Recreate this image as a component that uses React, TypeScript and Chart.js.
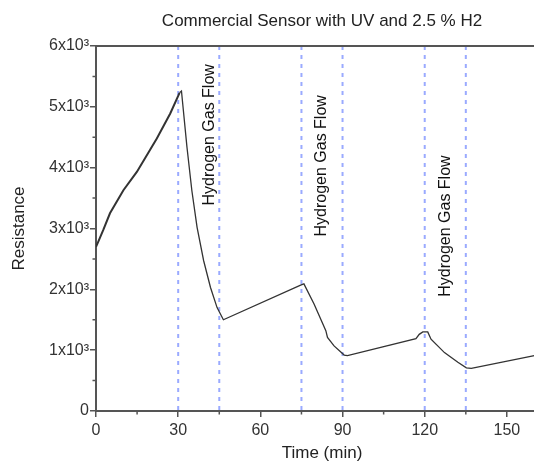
import { useEffect, useRef } from 'react';
import { Chart, registerables } from 'chart.js';

Chart.register(...registerables);

// ---- data ----
const timeMin = [0, 0.8, 2.7, 5.1, 10, 14.9, 19.7, 22.2, 27.1, 30.5, 31.2, 33.2, 35, 36.9, 39.3, 41.8, 44.2, 46.5, 74.7, 75.9, 79.6, 83.9, 84.5, 86.9, 90.6, 91.8, 116.8, 118, 119.3, 121.1, 122.3, 127.2, 132.1, 135.2, 137, 160];
const resistance = [2700, 2780, 2980, 3250, 3630, 3930, 4290, 4480, 4890, 5230, 5260, 4340, 3620, 3020, 2470, 2030, 1700, 1500, 2070, 2090, 1760, 1320, 1210, 1070, 920, 910, 1190, 1260, 1300, 1300, 1180, 960, 800, 710, 700, 910];

const flowLineTimes = [30, 45, 75, 90, 120, 135];
const flowLabelTimes = [41.5, 82.2, 127.7];
const flowLabelValues = [4540, 4030, 3040];
const flowLabelText = 'Hydrogen Gas Flow';

const yTickLabels = ['0', '1x10³', '2x10³', '3x10³', '4x10³', '5x10³', '6x10³'];
const xMinorTicks = [15, 45, 75, 105, 135, 165];
const yMinorTicks = [500, 1500, 2500, 3500, 4500, 5500];

const FONT = "'Liberation Sans', Arial, sans-serif";
const AXIS = '#555';

export default function App() {
  const ref = useRef<HTMLCanvasElement>(null);

  useEffect(() => {
    document.body.style.margin = '0';
    document.body.style.overflow = 'hidden';
    if (!ref.current) return;

    const overlay = {
      id: 'overlay',
      beforeDatasetsDraw(chart: any) {
        const { ctx, chartArea, scales } = chart;
        ctx.save();
        ctx.strokeStyle = 'rgba(100,125,255,0.65)';
        ctx.lineWidth = 2;
        ctx.setLineDash([4, 5]);
        flowLineTimes.forEach((t) => {
          const x = scales.x.getPixelForValue(t);
          ctx.beginPath();
          ctx.moveTo(x, chartArea.top);
          ctx.lineTo(x, chartArea.bottom);
          ctx.stroke();
        });
        ctx.restore();
      },
      afterDatasetsDraw(chart: any) {
        const { ctx, chartArea, scales } = chart;
        ctx.save();
        ctx.strokeStyle = AXIS;
        ctx.lineWidth = 2;
        ctx.beginPath();
        ctx.moveTo(chartArea.left, chartArea.top);
        ctx.lineTo(chartArea.right, chartArea.top);
        ctx.lineTo(chartArea.right, chartArea.bottom);
        ctx.stroke();
        ctx.lineWidth = 1.5;
        ctx.beginPath();
        xMinorTicks.forEach((t) => {
          const x = scales.x.getPixelForValue(t);
          ctx.moveTo(x, chartArea.bottom);
          ctx.lineTo(x, chartArea.bottom + 3.5);
        });
        yMinorTicks.forEach((v) => {
          const y = scales.y.getPixelForValue(v);
          ctx.moveTo(chartArea.left, y);
          ctx.lineTo(chartArea.left - 3.5, y);
        });
        ctx.stroke();
        ctx.fillStyle = '#111';
        ctx.font = `16px ${FONT}`;
        ctx.textAlign = 'center';
        ctx.textBaseline = 'middle';
        flowLabelTimes.forEach((t, i) => {
          const x = scales.x.getPixelForValue(t);
          const y = scales.y.getPixelForValue(flowLabelValues[i]);
          ctx.save();
          ctx.translate(x, y);
          ctx.rotate(-Math.PI / 2);
          ctx.fillText(flowLabelText, 0, 0);
          ctx.restore();
        });
        ctx.restore();
      },
    };

    const chart = new Chart(ref.current, {
      type: 'line',
      data: {
        datasets: [
          {
            data: timeMin.map((t, i) => ({ x: t, y: resistance[i] })),
            borderColor: '#333',
            borderWidth: 1.3,
            pointRadius: 0,
            tension: 0,
            fill: false,
            segment: {
              borderWidth: (c: any) => (c.p0.parsed.x < 30.4 ? 2 : 1.3),
            },
          },
        ],
      },
      options: {
        responsive: false,
        animation: false,
        devicePixelRatio: 1,
        layout: { padding: 0 },
        plugins: {
          legend: { display: false },
          tooltip: { enabled: false },
          title: {
            display: true,
            text: 'Commercial Sensor with UV and 2.5 % H2',
            fullSize: false,
            color: '#222',
            font: { family: FONT, size: 17, weight: 'normal' },
            padding: { top: 11, bottom: 14.6 },
          },
        },
        scales: {
          x: {
            type: 'linear',
            min: 0,
            max: 165,
            afterFit: (s: any) => {
              s.height = 55;
            },
            border: { display: true, color: AXIS, width: 2 },
            grid: { drawOnChartArea: false, drawTicks: true, tickLength: 6, color: AXIS, lineWidth: 1.5 },
            ticks: {
              stepSize: 30,
              includeBounds: false,
              color: '#333',
              padding: 4,
              maxRotation: 0,
              font: { family: FONT, size: 16 },
            },
            title: {
              display: true,
              text: 'Time (min)',
              color: '#222',
              font: { family: FONT, size: 17 },
              padding: { top: 0, bottom: 2 },
            },
          },
          y: {
            type: 'linear',
            min: 0,
            max: 6000,
            afterFit: (s: any) => {
              s.width = 96;
            },
            border: { display: true, color: AXIS, width: 2 },
            grid: { drawOnChartArea: false, drawTicks: true, tickLength: 6, color: AXIS, lineWidth: 1.5 },
            ticks: {
              stepSize: 1000,
              color: '#333',
              padding: 1,
              font: { family: FONT, size: 16 },
              callback: (v: any) => yTickLabels[Math.round(Number(v) / 1000)] ?? '',
            },
            title: {
              display: true,
              text: 'Resistance',
              color: '#222',
              font: { family: FONT, size: 17 },
              padding: { top: 9, bottom: 0 },
            },
          },
        },
      },
      plugins: [overlay],
    });
    return () => chart.destroy();
  }, []);

  return (
    <div style={{ position: 'fixed', left: 0, top: 0, width: 548, height: 466 }}>
      <canvas ref={ref} width={548} height={466} />
    </div>
  );
}
